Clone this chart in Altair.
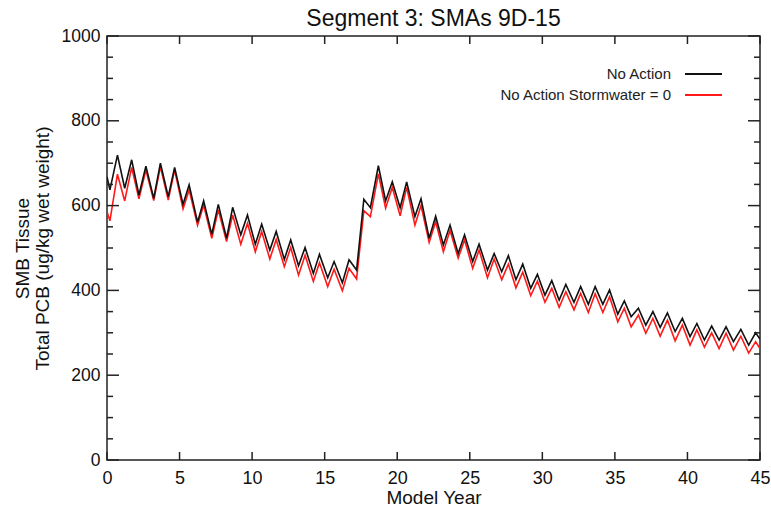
import altair as alt
import pandas as pd

# ---- data (model year, tissue PCB ug/kg) ----
years = [0.0, 0.2, 0.72, 1.22, 1.7, 2.2, 2.68, 3.22, 3.68, 4.22, 4.66, 5.24, 5.66, 6.24, 6.66,
         7.22, 7.67, 8.24, 8.66, 9.22, 9.68, 10.22, 10.66, 11.22, 11.66, 12.22, 12.66, 13.2,
         13.65, 14.22, 14.64, 15.21, 15.65, 16.22, 16.68, 17.2, 17.7, 18.15, 18.7, 19.2, 19.66,
         20.2, 20.65, 21.22, 21.64, 22.2, 22.65, 23.18, 23.64, 24.2, 24.64, 25.2, 25.64, 26.22,
         26.68, 27.2, 27.66, 28.18, 28.65, 29.2, 29.66, 30.18, 30.65, 31.16, 31.62, 32.18, 32.64,
         33.17, 33.64, 34.17, 34.63, 35.2, 35.65, 36.12, 36.62, 37.13, 37.62, 38.12, 38.62,
         39.15, 39.65, 40.18, 40.65, 41.17, 41.67, 42.18, 42.66, 43.17, 43.68, 44.22, 44.7, 45.0]
no_action = [668, 637, 719, 641, 708, 625, 693, 617, 700, 621, 690, 603, 649, 561, 611,
             532, 603, 523, 596, 531, 578, 509, 556, 495, 539, 473, 519, 458,
             501, 440, 485, 430, 468, 418, 472, 448, 615, 595, 694, 611, 656,
             595, 656, 574, 616, 523, 575, 507, 554, 487, 531, 468, 509, 448,
             487, 444, 482, 425, 462, 405, 438, 389, 423, 377, 414, 372, 409,
             367, 409, 367, 401, 344, 375, 338, 358, 318, 350, 313, 347,
             303, 334, 291, 322, 283, 316, 283, 314, 279, 308, 271, 300, 285]
stormwater_zero = [586, 564, 674, 611, 690, 616, 684, 612, 692, 613, 684, 592, 637, 554, 601,
                   523, 590, 515, 578, 509, 558, 491, 539, 474, 520, 456, 501, 436,
                   483, 421, 465, 409, 450, 399, 452, 427, 588, 574, 675, 594, 643,
                   576, 643, 554, 600, 513, 562, 491, 542, 476, 519, 452, 495, 430,
                   474, 425, 462, 406, 443, 388, 422, 372, 405, 360, 397, 354, 393,
                   348, 392, 348, 385, 326, 358, 314, 342, 299, 334, 292, 330,
                   281, 318, 271, 307, 266, 300, 263, 299, 259, 292, 252, 279, 263]

series_names = ["No Action", "No Action Stormwater = 0"]
series_colors = ["#111111", "#ff1a1a"]

x_ticks = [0, 5, 10, 15, 20, 25, 30, 35, 40, 45]
y_major = [0, 200, 400, 600, 800, 1000]
y_minor = [50, 100, 150, 250, 300, 350, 450, 500, 550, 650, 700, 750, 850, 900, 950]

W, H = 653, 424
FONT = "Liberation Sans"

df = pd.DataFrame({
    "year": years * 2,
    "value": no_action + stormwater_zero,
    "series": [series_names[0]] * len(years) + [series_names[1]] * len(years),
})

xscale = alt.Scale(domain=[0, 45], nice=False, zero=False)
yscale = alt.Scale(domain=[0, 1000], nice=False)

xa = alt.Axis(values=x_ticks, format="d", ticks=False, domain=False, grid=False, labelFont=FONT,
              labelFontSize=18, labelColor="#111", labelPadding=9, title="Model Year",
              titleFont=FONT, titleFontSize=19, titleFontWeight="normal", titleColor="#111",
              titlePadding=1, labelFlush=False)
ya = alt.Axis(values=y_major, format="d", ticks=False, domain=False, grid=False, labelFont=FONT,
              labelFontSize=17.5, labelColor="#111", labelPadding=7,
              title=["SMB Tissue", "Total PCB (ug/kg wet weight)"], titleFont=FONT,
              titleFontSize=19, titleFontWeight="normal", titleColor="#111",
              titlePadding=9, titleLineHeight=20)

base_lines = alt.Chart(df)

def line_layer(name, color):
    return base_lines.transform_filter(alt.datum.series == name).mark_line(
        color=color, strokeWidth=1.6, clip=True
    ).encode(
        x=alt.X("year:Q", scale=xscale, axis=xa),
        y=alt.Y("value:Q", scale=yscale, axis=ya),
    )

red = line_layer(series_names[1], series_colors[1])
black = line_layer(series_names[0], series_colors[0])

# ---- inward ticks on all four sides ----
xt = pd.DataFrame({"year": x_ticks})
ymaj = pd.DataFrame({"value": y_major})
ymin = pd.DataFrame({"value": y_minor})
tick_color = "#222"

def xrule(data, y0, y1):
    return alt.Chart(data).mark_rule(color=tick_color, strokeWidth=1.5).encode(
        x=alt.X("year:Q", scale=xscale, axis=xa), y=alt.value(y0), y2=alt.value(y1))

def yrule(data, x0, x1):
    return alt.Chart(data).mark_rule(color=tick_color, strokeWidth=1.5).encode(
        y=alt.Y("value:Q", scale=yscale, axis=ya), x=alt.value(x0), x2=alt.value(x1))

tick_layers = [
    xrule(xt, H, H - 8), xrule(xt, 0, 8),
    yrule(ymaj, 0, 12), yrule(ymaj, W, W - 12),
    yrule(ymin, 0, 6), yrule(ymin, W, W - 6),
]

# ---- legend (label left, line sample right) ----
leg_layers = []
for i, (name, color) in enumerate(zip(series_names, series_colors)):
    ypos = 38 + 21 * i
    leg_layers.append(alt.Chart(pd.DataFrame({"series": [name]})).mark_text(
        align="right", baseline="middle", font=FONT, fontSize=15, color="#222"
    ).encode(text="series:N", x=alt.value(564), y=alt.value(ypos)))
    leg_layers.append(alt.Chart(pd.DataFrame({"series": [name]})).mark_rule(
        color=color, strokeWidth=1.8
    ).encode(x=alt.value(578), x2=alt.value(615), y=alt.value(ypos)))

chart = alt.layer(
    red, black, *tick_layers, *leg_layers
).properties(
    width=W, height=H,
    title=alt.TitleParams("Segment 3: SMAs 9D-15", font=FONT, fontSize=23, fontWeight="normal",
                          color="#111", anchor="middle", offset=-4),
    autosize=alt.AutoSizeParams(type="none"),
    padding={"left": 107, "top": 36, "right": 11, "bottom": 49},
    background="white",
).configure_view(stroke="#222", strokeWidth=1.5)

chart.save("out.html", embed_options={"renderer": "svg", "actions": False})
